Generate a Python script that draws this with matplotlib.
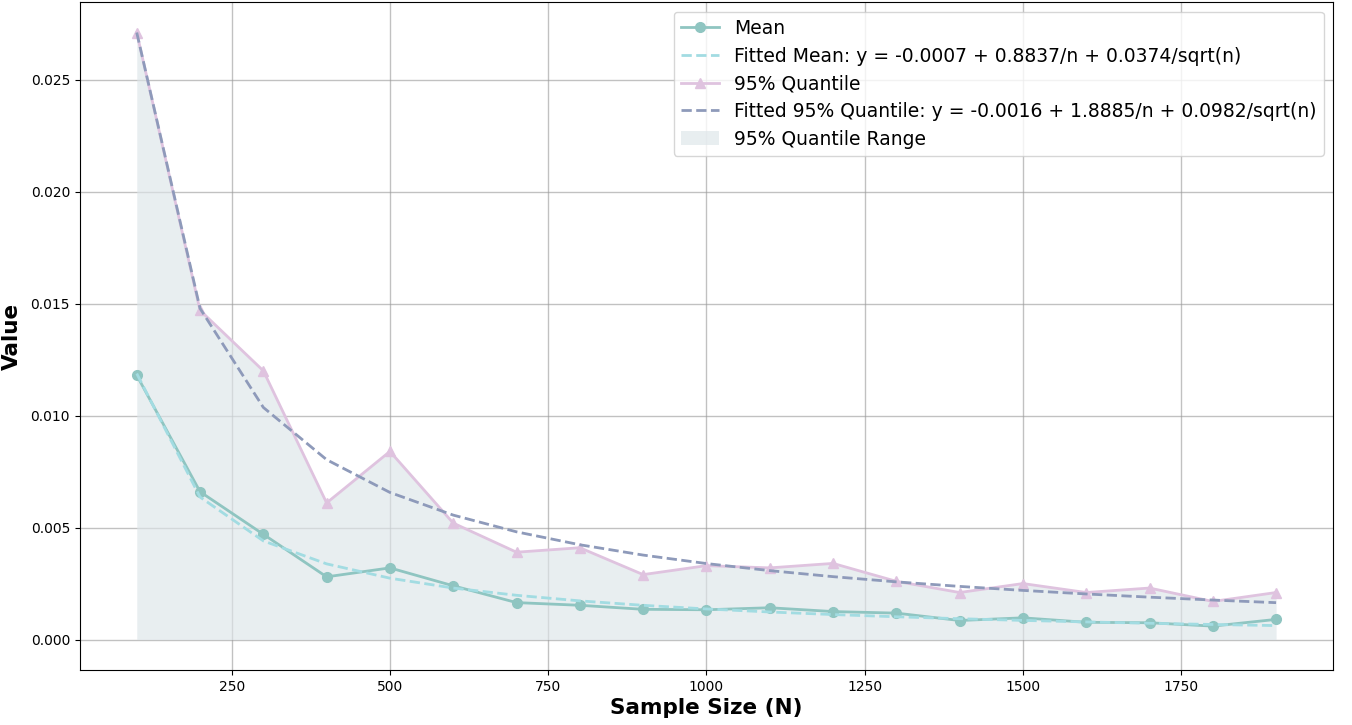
import numpy as np
import matplotlib
matplotlib.use("Agg")
import matplotlib.pyplot as plt

sample_sizes = [100, 200, 300, 400, 500, 600, 700, 800, 900, 1000,
                1100, 1200, 1300, 1400, 1500, 1600, 1700, 1800, 1900]
mean_vals = [0.0118, 0.0066, 0.0047, 0.0028, 0.0032, 0.0024, 0.00165, 0.00153, 0.00135, 0.00133,
             0.00142, 0.00125, 0.00118, 0.00085, 0.00097, 0.00077, 0.00075, 0.0006, 0.0009]
quant_vals = [0.0271, 0.0147, 0.0120, 0.0061, 0.0084, 0.0052, 0.0039, 0.0041, 0.0029, 0.0033,
              0.0032, 0.0034, 0.0026, 0.0021, 0.0025, 0.0021, 0.0023, 0.0017, 0.0021]
# fit coefficients shown in legend: a + b/n + c/sqrt(n)
mean_coef = (-0.0007, 0.8837, 0.0374)
quant_coef = (-0.0016, 1.8885, 0.0982)

n = np.array(sample_sizes, dtype=float)
fit_mean = mean_coef[0] + mean_coef[1] / n + mean_coef[2] / np.sqrt(n)
fit_quant = quant_coef[0] + quant_coef[1] / n + quant_coef[2] / np.sqrt(n)

fig, ax = plt.subplots(figsize=(13.52, 7.25), dpi=100)
fig.subplots_adjust(left=0.059, right=0.986, top=0.997, bottom=0.076)

ax.fill_between(n, 0, quant_vals, color="#dde5e9", alpha=0.65, label="95% Quantile Range", linewidth=0)
ax.plot(n, mean_vals, "-o", color="#8fc5c1", lw=2, ms=7, label="Mean")
ax.plot(n, fit_mean, "--", color="#a2dce2", lw=2,
        label=f"Fitted Mean: y = {mean_coef[0]:.4f} + {mean_coef[1]:.4f}/n + {mean_coef[2]:.4f}/sqrt(n)")
ax.plot(n, quant_vals, "-^", color="#dfc3df", lw=2, ms=7, label="95% Quantile")
ax.plot(n, fit_quant, "--", color="#8e9aba", lw=2,
        label=f"Fitted 95% Quantile: y = {quant_coef[0]:.4f} + {quant_coef[1]:.4f}/n + {quant_coef[2]:.4f}/sqrt(n)")

ax.grid(True, color="#999999", alpha=0.6, lw=1)
ax.set_axisbelow(True)
ax.set_xlabel("Sample Size (N)", fontsize=15.5, fontweight="bold", family="DejaVu Sans", labelpad=3)
ax.set_ylabel("Value", fontsize=15.5, fontweight="bold", family="DejaVu Sans", labelpad=6)
ax.tick_params(labelsize=10)

h, l = ax.get_legend_handles_labels()
order = [1, 2, 3, 4, 0]
ax.legend([h[i] for i in order], [l[i] for i in order], loc="upper right", fontsize=13.5,
          framealpha=0.8, labelspacing=0.46)

fig.savefig("out.png", dpi=100)
